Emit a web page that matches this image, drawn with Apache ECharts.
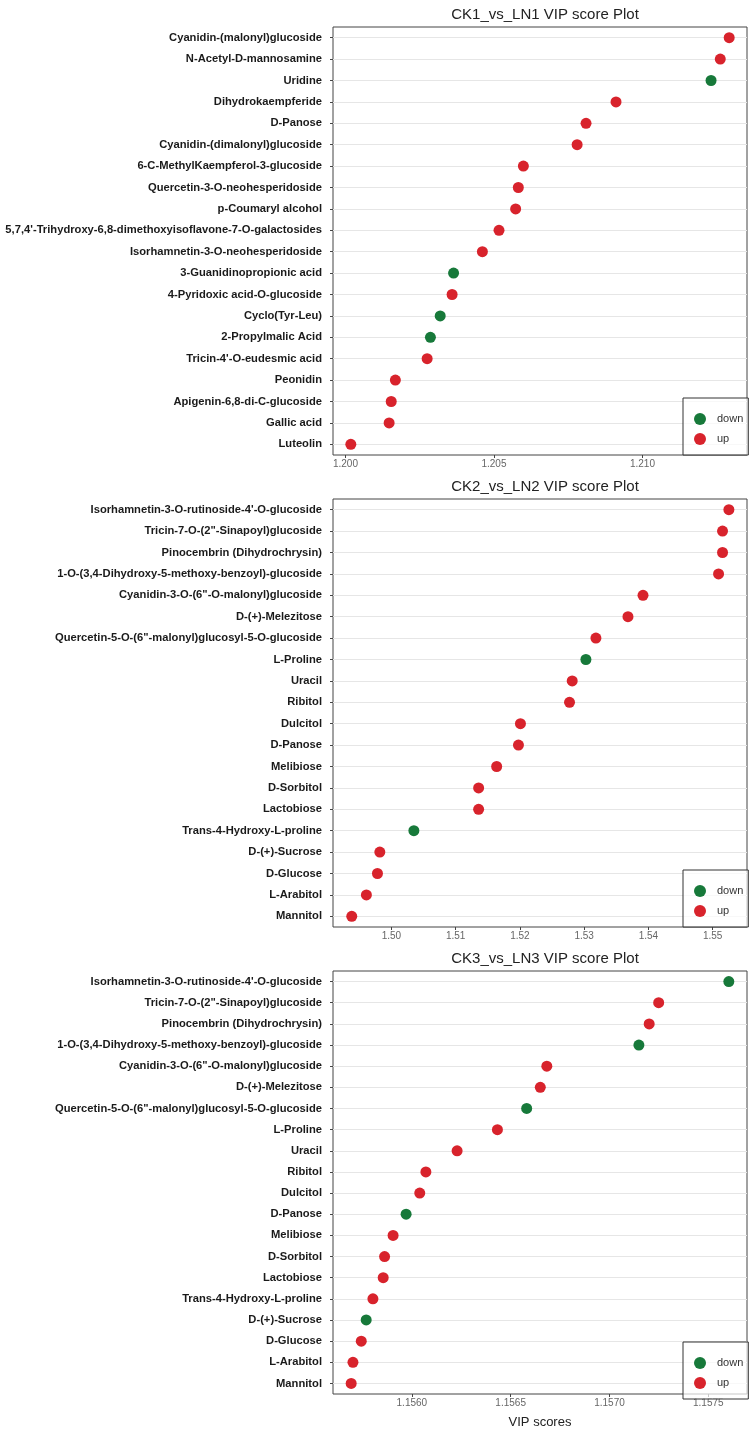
<!DOCTYPE html>
<html>
<head>
<meta charset="utf-8">
<script src="https://cdn.jsdelivr.net/npm/echarts@6/dist/echarts.min.js"></script>
<style>
html,body{margin:0;padding:0;background:#fff;}
#c{width:751px;height:1430px;}
</style>
</head>
<body>
<div id="c"></div>
<script>
const titles = ['CK1_vs_LN1 VIP score Plot', 'CK2_vs_LN2 VIP score Plot', 'CK3_vs_LN3 VIP score Plot'];

const cat1 = ['Cyanidin-(malonyl)glucoside', 'N-Acetyl-D-mannosamine', 'Uridine', 'Dihydrokaempferide', 'D-Panose',
  'Cyanidin-(dimalonyl)glucoside', '6-C-MethylKaempferol-3-glucoside', 'Quercetin-3-O-neohesperidoside', 'p-Coumaryl alcohol',
  "5,7,4'-Trihydroxy-6,8-dimethoxyisoflavone-7-O-galactosides", 'Isorhamnetin-3-O-neohesperidoside', '3-Guanidinopropionic acid',
  '4-Pyridoxic acid-O-glucoside', 'Cyclo(Tyr-Leu)', '2-Propylmalic Acid', "Tricin-4'-O-eudesmic acid", 'Peonidin',
  'Apigenin-6,8-di-C-glucoside', 'Gallic acid', 'Luteolin'];
const vip1 = [1.21292, 1.21262, 1.21231, 1.20911, 1.20810, 1.20780, 1.20599, 1.20582, 1.20573, 1.20517,
  1.20461, 1.20364, 1.20359, 1.20319, 1.20286, 1.20275, 1.20168, 1.20154, 1.20147, 1.20018];
const dir1 = ['up','up','down','up','up','up','up','up','up','up','up','down','up','down','down','up','up','up','up','up'];

const cat2 = ["Isorhamnetin-3-O-rutinoside-4'-O-glucoside", 'Tricin-7-O-(2"-Sinapoyl)glucoside', 'Pinocembrin (Dihydrochrysin)',
  '1-O-(3,4-Dihydroxy-5-methoxy-benzoyl)-glucoside', 'Cyanidin-3-O-(6"-O-malonyl)glucoside', 'D-(+)-Melezitose',
  'Quercetin-5-O-(6"-malonyl)glucosyl-5-O-glucoside', 'L-Proline', 'Uracil', 'Ribitol', 'Dulcitol', 'D-Panose', 'Melibiose',
  'D-Sorbitol', 'Lactobiose', 'Trans-4-Hydroxy-L-proline', 'D-(+)-Sucrose', 'D-Glucose', 'L-Arabitol', 'Mannitol'];
const vip2 = [1.55253, 1.55154, 1.55154, 1.55092, 1.53916, 1.53682, 1.53183, 1.53027, 1.52814, 1.52772,
  1.52008, 1.51977, 1.51638, 1.51357, 1.51357, 1.50349, 1.49819, 1.49782, 1.49610, 1.49382];
const dir2 = ['up','up','up','up','up','up','up','down','up','up','up','up','up','up','up','down','up','up','up','up'];

const cat3 = cat2.slice();
const vip3 = [1.157604, 1.157249, 1.157201, 1.157149, 1.156683, 1.156650, 1.156581, 1.156433, 1.156229, 1.156071,
  1.156040, 1.155971, 1.155905, 1.155862, 1.155855, 1.155803, 1.155769, 1.155744, 1.155702, 1.155693];
const dir3 = ['down','up','up','down','up','up','down','up','up','up','up','down','up','up','up','up','down','up','up','up'];

const xMin = [1.19958, 1.49090, 1.155601];
const xMax = [1.21352, 1.55535, 1.157696];
const xSplit = [3, 6, 4];
const xDecimals = [3, 2, 4];

const cats = [cat1, cat2, cat3];
const vips = [vip1, vip2, vip3];
const dirs = [dir1, dir2, dir3];

const COLORS = { down: '#17793a', up: '#d8232c' };
const FONT = '"Liberation Sans", Arial, Helvetica, sans-serif';
const gridTops = [27, 499, 971];
const gridH = 428;

const option = {
  backgroundColor: '#fff',
  animation: false,
  textStyle: { fontFamily: FONT },
  title: titles.map((t, i) => ({
    text: t, left: 540, textAlign: 'center', top: gridTops[i] - 25,
    textStyle: { fontSize: 15, fontWeight: 'normal', color: '#222', fontFamily: FONT }
  })),
  grid: gridTops.map(t => ({
    left: 333, right: 4, top: t, height: gridH, show: true,
    borderColor: '#444', borderWidth: 1, backgroundColor: '#fff'
  })),
  legend: gridTops.map(t => ({
    data: ['down', 'up'], orient: 'vertical', left: 683, top: t + gridH - 57,
    itemWidth: 12, itemHeight: 12, itemGap: 8, icon: 'circle',
    padding: [15, 5, 10, 11], borderColor: '#333', borderWidth: 1,
    backgroundColor: 'rgba(255,255,255,0.7)',
    textStyle: { fontSize: 11, color: '#333', fontFamily: FONT, padding: [0, 0, 0, 6] }
  })),
  xAxis: [0, 1, 2].map(i => ({
    type: 'value', gridIndex: i, min: xMin[i], max: xMax[i], splitNumber: xSplit[i], scale: true,
    name: i === 2 ? 'VIP scores' : '', nameLocation: 'middle', nameGap: 22,
    nameTextStyle: { fontSize: 13, color: '#222', fontFamily: FONT },
    axisLine: { show: false },
    axisTick: { show: true, length: 3, lineStyle: { color: '#444' } },
    splitLine: { show: false },
    axisLabel: {
      fontSize: 10, color: '#666', margin: 4, showMinLabel: false, showMaxLabel: false,
      formatter: v => v.toFixed(xDecimals[i])
    }
  })),
  yAxis: [0, 1, 2].map(i => ({
    type: 'category', gridIndex: i, data: cats[i], inverse: true, boundaryGap: true,
    axisLine: { show: false },
    axisTick: { show: true, length: 3, alignWithLabel: true, lineStyle: { color: '#444' } },
    splitLine: { show: true, alignWithLabel: true, lineStyle: { color: '#e6e6e6', width: 1 } },
    axisLabel: { fontSize: 11.2, fontWeight: 'bold', color: '#1a1a1a', margin: 11, interval: 0, fontFamily: FONT }
  })),
  series: []
};

[0, 1, 2].forEach(i => {
  ['down', 'up'].forEach(d => {
    option.series.push({
      type: 'scatter', name: d, xAxisIndex: i, yAxisIndex: i,
      symbolSize: 11, itemStyle: { color: COLORS[d], opacity: 1 },
      data: vips[i].map((v, k) => dirs[i][k] === d ? [v, cats[i][k]] : null).filter(x => x)
    });
  });
});

const chart = echarts.init(document.getElementById('c'), null, { renderer: 'canvas' });
chart.setOption(option);
</script>
</body>
</html>
